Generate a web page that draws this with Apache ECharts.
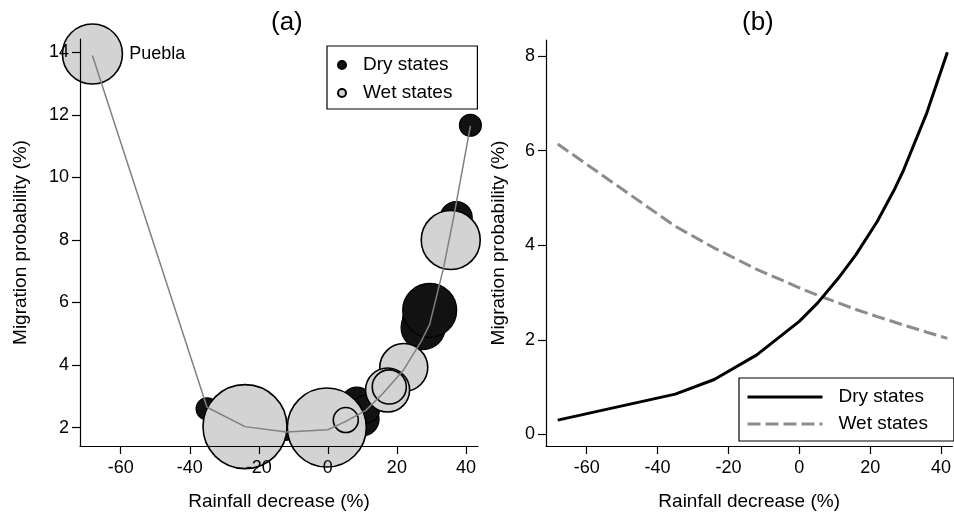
<!DOCTYPE html>
<html><head><meta charset="utf-8">
<script src="https://cdn.jsdelivr.net/npm/echarts@6/dist/echarts.min.js"></script>
<style>html,body{margin:0;padding:0;background:#fff}#c{width:954px;height:516px}</style>
</head><body><div id="c"></div>
<script>
// ---------- tick labels ----------
const xTicks = [-60, -40, -20, 0, 20, 40];
const yTicksA = [2, 4, 6, 8, 10, 12, 14];
const yTicksB = [0, 2, 4, 6, 8];

// ---------- panel (a): state bubbles ----------
// Dry states: rainfall decrease (%), migration probability (%), weight
const dryRain   = [-35, -12, 8.4, 9.9, 11.0, 28.3, 28.0, 27.6, 29.5, 37.2, 41.3];
const dryMig    = [2.6, 1.85, 2.78, 2.27, 2.59, 5.55, 5.4, 5.2, 5.75, 8.72, 11.67];
const dryWeight = [4.8, 2.6, 10.2, 11.6, 7.8, 19.4, 19.4, 19.4, 29.2, 10.2, 4.8];

// Wet states
const wetNames  = ['', '', 'Puebla', '', '', '', '', ''];
const wetRain   = [-24, -0.3, -68.2, 35.6, 22, 17.3, 17.8, 5.2];
const wetMig    = [2.03, 2.0, 13.95, 8.0, 3.92, 3.2, 3.3, 2.24];
const wetWeight = [70.6, 62.4, 36, 34.8, 23, 19.4, 11.6, 6.25];

// Fitted line
const fitRain = [-68.2, -35, -24, -12, 0, 5.2, 11, 16, 22, 27, 29.5, 33.5, 36.4, 41.3];
const fitMig  = [13.9, 2.65, 2.03, 1.86, 1.93, 2.2, 2.55, 3.1, 3.85, 4.75, 5.3, 7.1, 8.7, 11.65];

// ---------- panel (b): predicted probabilities ----------
const predRain = [-68.2, -35, -24, -12, 0, 5.2, 11, 16, 22, 27, 29.5, 36, 41.8];
const predDry  = [0.30, 0.85, 1.16, 1.68, 2.39, 2.78, 3.3, 3.8, 4.5, 5.2, 5.6, 6.8, 8.08];
const predWet  = [6.14, 4.40, 3.94, 3.49, 3.10, 2.94, 2.78, 2.64, 2.49, 2.37, 2.31, 2.16, 2.03];

const FONT = '"Liberation Sans", Arial, Helvetica, sans-serif';
const zip = (a, b) => a.map((v, i) => [v, b[i]]);
const bubbleSize = v => 10 * Math.sqrt(v[2]);

const dryData = dryRain.map((v, i) => [v, dryMig[i], dryWeight[i]]);
const wetData = wetRain.map((v, i) => ({
  name: wetNames[i],
  value: [v, wetMig[i], wetWeight[i]],
  label: { show: wetNames[i] !== '' }
}));

function xAxisCfg(gridIndex, min, max) {
  return {
    type: 'value', gridIndex, min, max, z: 10,
    name: 'Rainfall decrease (%)', nameLocation: 'middle', nameGap: 46,
    nameTextStyle: { fontFamily: FONT, fontSize: 19, color: '#000' },
    axisLine: { show: true, onZero: false, lineStyle: { color: '#000', width: 1.2 } },
    axisTick: { show: true, length: 8, lineStyle: { color: '#000', width: 1.2 }, customValues: xTicks },
    axisLabel: { fontFamily: FONT, fontSize: 18, color: '#000', margin: 13, customValues: xTicks },
    splitLine: { show: false }
  };
}
function yAxisCfg(gridIndex, min, max, ticks, gap) {
  return {
    type: 'value', gridIndex, min, max, z: 10,
    name: 'Migration probability (%)', nameLocation: 'middle', nameGap: gap,
    nameTextStyle: { fontFamily: FONT, fontSize: 19, color: '#000' },
    axisLine: { show: true, onZero: false, lineStyle: { color: '#000', width: 1.2 } },
    axisTick: { show: true, length: 8, lineStyle: { color: '#000', width: 1.2 }, customValues: ticks },
    axisLabel: { fontFamily: FONT, fontSize: 18, color: '#000', margin: 11, customValues: ticks },
    splitLine: { show: false }
  };
}

const chart = echarts.init(document.getElementById('c'), null, { renderer: 'canvas' });
chart.setOption({
  animation: false,
  backgroundColor: '#fff',
  title: [
    { text: '(a)', left: 266, top: 5, textStyle: { fontFamily: FONT, fontSize: 26, fontWeight: 'normal', color: '#000' } },
    { text: '(b)', left: 737, top: 5, textStyle: { fontFamily: FONT, fontSize: 26, fontWeight: 'normal', color: '#000' } }
  ],
  grid: [
    { left: 80, right: 476, top: 39, bottom: 69 },
    { left: 546, right: 1, top: 40, bottom: 69 }
  ],
  xAxis: [xAxisCfg(0, -71.8, 43.5), xAxisCfg(1, -71.5, 43.2)],
  yAxis: [yAxisCfg(0, 1.41, 14.43, yTicksA, 50), yAxisCfg(1, -0.247, 8.34, yTicksB, 38)],
  legend: [
    {
      data: ['a: Dry states', 'a: Wet states'],
      formatter: n => n.slice(3),
      orient: 'vertical', left: 327, top: 46,
      padding: [9, 25, 6, 10], itemGap: 8, itemWidth: 8, itemHeight: 8,
      borderColor: '#000', borderWidth: 1.2, selectedMode: false,
      textStyle: { fontFamily: FONT, fontSize: 19, color: '#000', lineHeight: 20, padding: [0, 0, 0, 12] }
    },
    {
      data: ['b: Dry states', 'b: Wet states'],
      formatter: n => n.slice(3),
      orient: 'vertical', left: 739, top: 378,
      padding: [9, 26, 7, 7], itemGap: 7, itemWidth: 75, itemHeight: 14,
      borderColor: '#000', borderWidth: 1.2, selectedMode: false,
      itemStyle: { color: 'rgba(0,0,0,0)', borderWidth: 0, opacity: 0 },
      lineStyle: { width: 3 },
      textStyle: { fontFamily: FONT, fontSize: 19, color: '#000', lineHeight: 20, padding: [0, 0, 0, 11] }
    }
  ],
  series: [
    {
      name: 'a: Dry states', type: 'scatter', xAxisIndex: 0, yAxisIndex: 0, clip: false,
      data: dryData, symbolSize: bubbleSize,
      itemStyle: { color: '#121212', borderColor: '#000', borderWidth: 1.2, opacity: 1 },
      emphasis: { disabled: true }, z: 2
    },
    {
      name: 'a: Wet states', type: 'scatter', xAxisIndex: 0, yAxisIndex: 0, clip: false,
      data: wetData, symbolSize: bubbleSize,
      itemStyle: { color: '#d3d3d3', borderColor: '#000', borderWidth: 1.6, opacity: 1 },
      label: { show: false, position: 'right', distance: 6, formatter: '{b}', fontFamily: FONT, fontSize: 18, color: '#000' },
      emphasis: { disabled: true }, z: 3
    },
    {
      name: 'fit', type: 'line', xAxisIndex: 0, yAxisIndex: 0,
      data: zip(fitRain, fitMig), symbol: 'none', silent: true,
      lineStyle: { color: '#808080', width: 1.5 }, z: 4
    },
    {
      name: 'b: Dry states', type: 'line', xAxisIndex: 1, yAxisIndex: 1,
      data: zip(predRain, predDry), symbol: 'none',
      itemStyle: { color: '#000' },
      lineStyle: { color: '#000', width: 3 }, z: 3
    },
    {
      name: 'b: Wet states', type: 'line', xAxisIndex: 1, yAxisIndex: 1,
      data: zip(predRain, predWet), symbol: 'none',
      itemStyle: { color: '#8c8c8c' },
      lineStyle: { color: '#8c8c8c', width: 3, type: [13, 5] }, z: 2
    }
  ]
});
</script>
</body></html>
